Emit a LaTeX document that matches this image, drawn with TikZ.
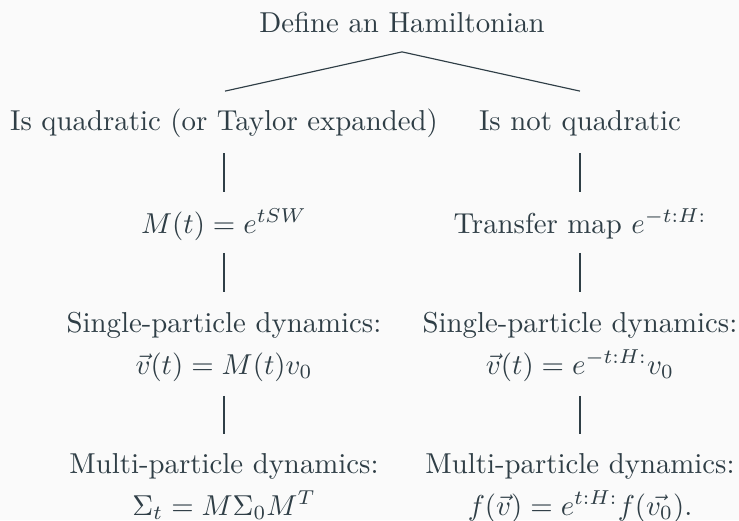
\documentclass[tikz,border=0pt]{standalone}
\usepackage{amsmath}
\definecolor{ink}{RGB}{47,62,70}
\definecolor{bgc}{RGB}{250,250,250}
\begin{document}
\begin{tikzpicture}[x=0.3472pt,y=-0.3472pt,
  every node/.style={text=ink, inner sep=0pt},
  lbl/.style={anchor=base},
  link/.style={draw=ink, line width=0.4pt}]
\fill[bgc] (0,0) rectangle (739,520);
\useasboundingbox (0,0) rectangle (739,520);
% nodes
\node[lbl] (root) at (402,32) {Define an Hamiltonian};
\node[lbl] (q)  at (224,130) {Is quadratic (or Taylor expanded)};
\node[lbl] (nq) at (580,130) {Is not quadratic};
\node[lbl] (m)  at (224,233) {$M(t) = e^{tSW}$};
\node[lbl] (tm) at (580,233) {Transfer map $e^{-t:H:}$};
\node[lbl] (sl) at (224,332) {Single-particle dynamics:};
\node[lbl] (slm) at (224,374) {$\vec{v}(t) = M(t)v_0$};
\node[lbl] (sr) at (580,332) {Single-particle dynamics:};
\node[lbl] (srm) at (580,374) {$\vec{v}(t) = e^{-t:H:}v_0$};
\node[lbl] (ml) at (224,473) {Multi-particle dynamics:};
\node[lbl] (mlm) at (224,515) {$\Sigma_t = M\Sigma_0M^T$};
\node[lbl] (mr) at (580,473) {Multi-particle dynamics:};
\node[lbl] (mrm) at (580,515) {$f(\vec{v}) = e^{t:H:}f(\vec{v_0}).$};
% connectors
\draw[link] ([xshift=0.35pt,yshift=13.5pt]q.base) -- ([yshift=-6.9pt]root.base) -- ([yshift=13.5pt]nq.base);
\draw[link] ([yshift=-8pt]q.base) -- ([yshift=14.2pt]m.base);
\draw[link] ([yshift=-8pt]nq.base) -- ([yshift=14.2pt]tm.base);
\draw[link] ([yshift=-6.9pt]m.base) -- ([yshift=13.9pt]sl.base);
\draw[link] ([yshift=-6.9pt]tm.base) -- ([yshift=13.9pt]sr.base);
\draw[link] ([yshift=-7.6pt]slm.base) -- ([yshift=13.5pt]ml.base);
\draw[link] ([yshift=-7.6pt]srm.base) -- ([yshift=13.5pt]mr.base);
\end{tikzpicture}
\end{document}
